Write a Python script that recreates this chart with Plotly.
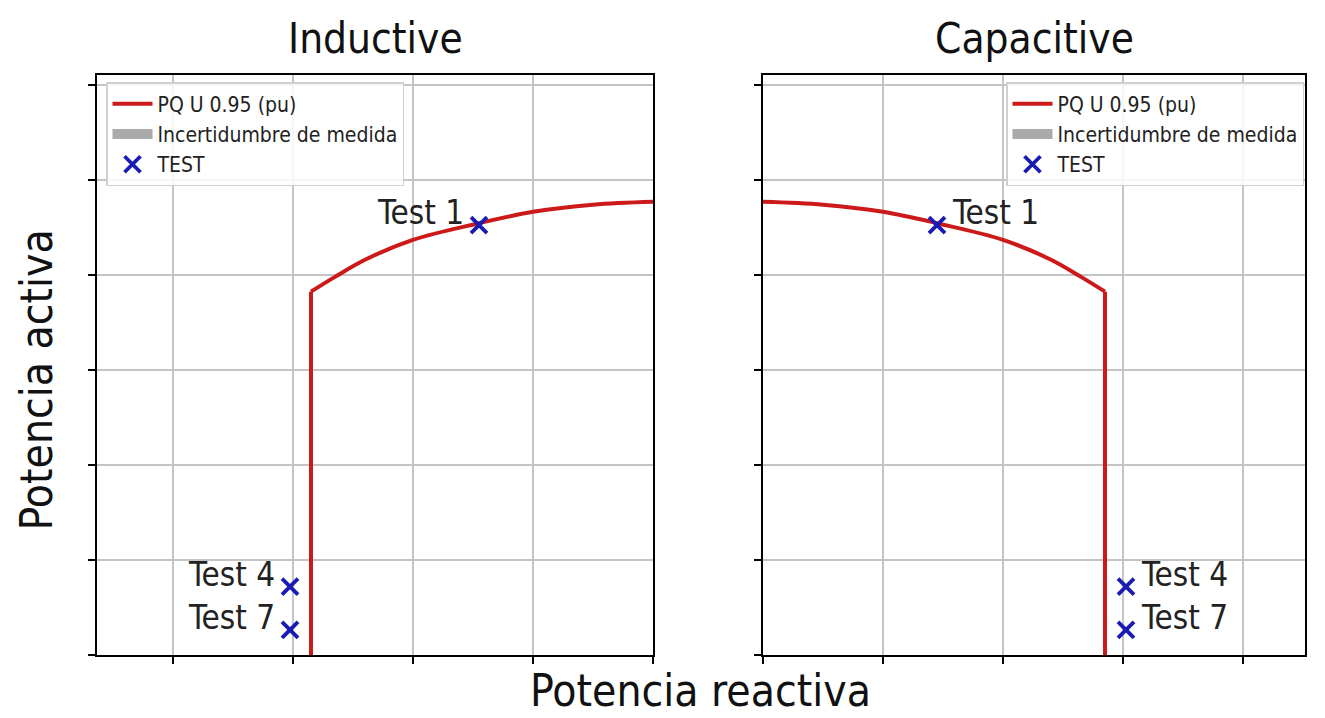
import plotly.graph_objects as go
from plotly.subplots import make_subplots

# ---- data ----
arc_q = [0.0, 0.10, 0.20, 0.29, 0.40, 0.48, 0.53, 0.57]
arc_p = [0.954, 0.948, 0.933, 0.909, 0.874, 0.832, 0.796, 0.765]
limit_q = [0.57, 0.57]
limit_p = [0.765, 0.0]
test_q = [0.29, 0.605, 0.605]
test_p = [0.905, 0.144, 0.053]
test_labels = ["Test 1", "Test 4", "Test 7"]
panel_titles = ["Inductive", "Capacitive"]
x_ticks_left = [-0.8, -0.6, -0.4, -0.2, 0.0]
x_ticks_right = [0.0, 0.2, 0.4, 0.6, 0.8]
y_ticks = [0.0, 0.2, 0.4, 0.6, 0.8, 1.0, 1.2]

FONT = "DejaVu Sans Condensed, DejaVu Sans"
RED = "#cc1a1a"
BLUE = "#1a1ab4"
GREY = "#aaaaaa"

W, H = 1325, 718
OFF = 8  # page body margin
PW = 1208
PH = 580
ML = 97 - OFF
MT = 75 - OFF
MR = W - ML - PW
MB = H - MT - PH

fig = make_subplots(rows=1, cols=2, horizontal_spacing=0.05)

for col, sign, leg in [(1, -1, "legend"), (2, 1, "legend2")]:
    fig.add_trace(go.Scatter(
        x=[sign * q for q in arc_q], y=arc_p, mode="lines", line_shape="spline",
        line=dict(color=RED, width=4), name="PQ U 0.95 (pu)",
        legend=leg, showlegend=True), row=1, col=col)
    fig.add_trace(go.Scatter(
        x=[sign * q for q in limit_q], y=limit_p, mode="lines",
        line=dict(color=RED, width=4), showlegend=False, hoverinfo="skip"),
        row=1, col=col)
    fig.add_trace(go.Scatter(
        x=[None], y=[None], mode="lines",
        line=dict(width=16, color=GREY), name="Incertidumbre de medida",
        legend=leg, showlegend=True), row=1, col=col)
    fig.add_trace(go.Scatter(
        x=[sign * q for q in test_q], y=test_p, mode="markers",
        marker=dict(symbol="x-thin", size=16, line=dict(width=3.8, color=BLUE), color=BLUE),
        name="TEST", legend=leg, showlegend=True), row=1, col=col)
    xref = "x" if col == 1 else "x2"
    yref = "y" if col == 1 else "y2"
    for q, p, lab in zip(test_q, test_p, test_labels):
        fig.add_annotation(
            x=sign * q, y=p, xref=xref, yref=yref, text=lab, showarrow=False,
            xanchor="right" if sign < 0 else "left", yanchor="bottom",
            xshift=-13 if sign < 0 else 13, yshift=-9,
            font=dict(family=FONT, size=33, color="#222222"))

left_dom = [0, (653 - 97) / PW]
right_dom = [(763 - 97) / PW, 1]

axis_common = dict(showgrid=True, gridcolor="#c4c4c4", gridwidth=1.5,
                   showline=True, linecolor="black", linewidth=2, mirror=True,
                   ticks="outside", ticklen=7, tickwidth=2, tickcolor="black",
                   showticklabels=False, zeroline=False)

fig.update_xaxes(axis_common, row=1, col=1, range=[(97 - 653) / 600, 0],
                 tickvals=x_ticks_left, domain=left_dom)
fig.update_xaxes(axis_common, row=1, col=2, range=[0, (1305 - 763) / 600],
                 tickvals=x_ticks_right, domain=right_dom)
fig.update_yaxes(axis_common, row=1, col=1, range=[0, 580 / 475], tickvals=y_ticks)
fig.update_yaxes(axis_common, row=1, col=2, range=[0, 580 / 475], tickvals=y_ticks)

# titles
for dom, t in zip([left_dom, right_dom], panel_titles):
    fig.add_annotation(x=(dom[0] + dom[1]) / 2, y=1, xref="paper", yref="paper",
                       xanchor="center", yanchor="bottom", yshift=10, text=t,
                       showarrow=False, font=dict(family=FONT, size=42, color="#111111"))

fig.add_annotation(x=(700 - 97) / PW, y=0, xref="paper", yref="paper",
                   xanchor="center", yanchor="top", yshift=-8, text="Potencia reactiva",
                   showarrow=False, font=dict(family=FONT, size=44, color="#111111"))
fig.add_annotation(x=0, y=(655 - 380) / PH, xref="paper", yref="paper",
                   xanchor="right", yanchor="middle", xshift=-34, textangle=-90,
                   text="Potencia activa", showarrow=False,
                   font=dict(family=FONT, size=44, color="#111111"))

legend_common = dict(font=dict(family=FONT, size=21, color="#222222"),
                     bgcolor="rgba(255,255,255,0.85)", bordercolor="#d0d0d0",
                     borderwidth=1.5, yanchor="top", y=(655 - 82) / PH,
                     tracegroupgap=0, itemwidth=40)
fig.update_layout(
    legend=dict(legend_common, x=(106 - 97) / PW, xanchor="left"),
    legend2=dict(legend_common, x=(1304 - 97) / PW, xanchor="right"),
)

fig.update_layout(width=W, height=H, margin=dict(l=ML, r=MR, t=MT, b=MB),
                  plot_bgcolor="white", paper_bgcolor="white",
                  font=dict(family=FONT))

fig.write_html("out.html")
